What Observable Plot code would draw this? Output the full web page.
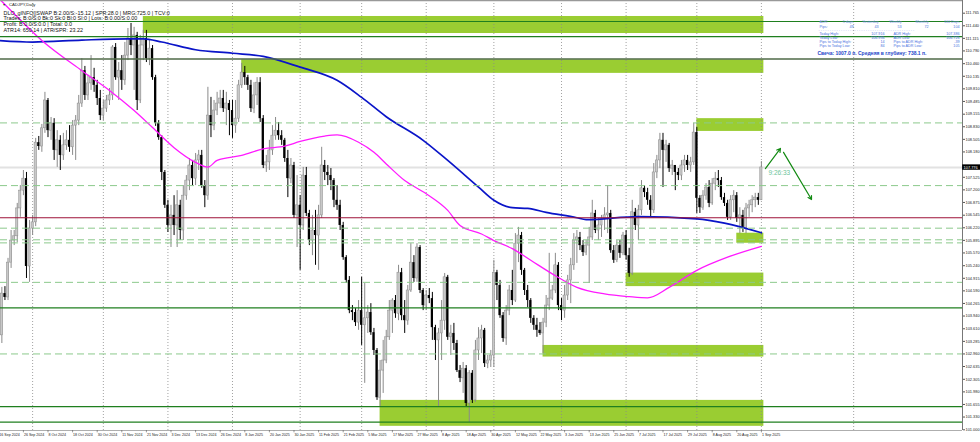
<!DOCTYPE html>
<html><head><meta charset="utf-8">
<script src="https://cdn.jsdelivr.net/npm/d3@7"></script>
<script src="https://cdn.jsdelivr.net/npm/@observablehq/plot@0.6"></script>
<style>html,body{margin:0;padding:0;background:#fff;overflow:hidden}#chart svg{display:block}</style>
</head><body><div id="chart"></div>
<script>
// ---- Daily CADJPY bars (index 0 = 16 Sep 2024 ... 248 = 1 Sep 2025) ----
const firstOpen = 103.57;
const closes = [
103.44,104.52,104.42,105.32,105.89,106.00,106.72,107.18,107.49,105.22,
106.20,106.36,108.42,108.32,108.79,109.51,108.73,108.92,108.22,108.48,
108.09,108.35,108.48,108.30,108.86,108.99,109.43,110.28,109.64,109.95,
110.10,109.90,109.56,109.12,109.30,109.51,109.64,110.88,110.10,110.28,
110.03,110.67,111.11,110.93,111.19,109.51,110.93,111.11,110.59,110.85,
110.10,108.92,108.55,107.65,106.80,106.28,106.54,106.28,106.80,106.15,
107.05,107.44,107.83,107.49,107.96,108.09,107.31,107.05,109.12,108.86,
109.25,109.43,109.56,109.30,109.43,109.25,108.86,109.04,109.90,110.23,
110.10,109.90,109.30,109.64,109.97,109.04,107.83,107.91,108.22,108.60,
108.73,108.60,108.48,108.01,107.49,107.83,106.54,106.80,106.28,107.57,
106.59,105.89,106.15,106.02,106.54,107.83,107.65,107.57,107.44,106.93,
106.80,106.28,105.45,104.86,104.08,104.03,103.77,104.08,103.70,103.88,
104.03,103.51,103.05,101.83,102.53,102.79,103.39,104.08,104.34,104.00,
105.06,103.95,103.82,104.60,105.32,104.91,105.71,104.60,104.21,104.47,
104.39,103.64,103.31,103.49,103.82,104.94,103.39,103.49,103.23,102.53,
102.33,102.58,101.68,102.46,101.76,103.05,103.36,103.57,102.71,102.79,
102.92,105.06,104.73,103.95,103.36,104.08,104.60,104.34,105.81,106.02,
105.12,104.60,104.34,103.88,103.70,103.57,103.49,103.77,104.21,104.39,
104.60,105.25,104.21,104.08,104.47,104.86,105.25,105.89,105.97,105.76,
105.58,105.76,105.97,106.59,106.15,106.28,106.46,106.54,106.59,105.63,
105.38,105.76,105.56,106.02,105.50,105.04,106.62,106.28,106.67,107.24,
107.13,106.93,106.67,107.65,107.96,108.48,108.22,108.35,107.75,107.83,
107.65,107.57,107.83,107.96,107.83,107.91,108.68,106.98,106.74,107.05,
107.26,106.85,107.36,107.49,107.44,107.00,106.85,106.49,106.93,107.05,
106.46,106.54,106.20,106.72,106.80,106.93,107.00,106.93,107.78];
const highs = [
103.82,104.68,104.70,105.43,106.15,106.15,106.85,107.31,107.70,107.65,
106.41,106.54,108.53,108.58,108.89,109.72,109.56,109.07,109.04,108.73,
108.60,108.66,108.73,108.86,108.99,109.12,109.64,110.59,110.39,110.16,
110.67,110.34,110.03,109.77,109.51,109.64,109.82,110.93,110.98,110.49,
110.67,111.01,111.37,111.50,111.40,111.27,111.19,111.32,111.32,111.06,
110.93,110.16,108.99,108.60,107.70,106.93,106.80,107.05,107.18,106.93,
107.31,107.57,108.01,107.96,108.14,108.22,108.22,107.44,109.85,109.59,
109.51,109.72,109.77,109.77,109.72,109.51,109.51,109.51,110.03,110.47,
110.39,110.16,110.03,109.97,110.10,110.10,109.12,108.09,108.48,108.86,
109.07,108.94,108.73,108.53,108.22,108.01,107.91,107.57,107.05,107.78,
107.78,106.67,106.54,106.67,106.80,108.30,107.96,107.83,107.75,107.49,
107.31,106.93,106.36,105.50,104.96,104.21,104.13,104.34,104.94,104.78,
104.21,104.26,103.62,103.10,102.79,103.31,103.57,104.34,104.39,104.47,
105.25,105.17,104.34,104.73,105.81,105.50,105.81,105.76,104.65,104.60,
104.65,104.55,103.70,103.62,104.34,105.04,104.99,103.70,103.75,103.31,
102.66,102.74,102.66,102.53,102.53,103.31,103.64,103.70,103.62,102.92,
103.05,105.38,105.12,104.86,104.03,104.21,104.73,105.12,106.07,106.23,
106.10,105.17,104.73,104.39,103.95,103.88,103.77,103.88,104.47,105.56,
104.73,105.56,105.32,104.39,104.73,104.99,105.43,106.07,106.15,106.10,
105.89,105.89,106.23,106.93,106.67,106.46,106.54,106.74,107.31,106.67,
105.76,105.89,105.89,106.10,106.15,105.69,106.93,106.72,106.80,107.44,
107.31,107.24,107.05,107.88,108.09,108.66,108.66,108.48,108.40,107.96,
107.83,107.75,107.96,108.09,108.09,108.04,108.92,108.81,107.05,107.18,
107.36,107.44,107.49,107.65,107.70,107.52,107.11,106.93,107.05,107.18,
107.13,106.74,106.67,106.85,106.93,107.05,107.11,107.11,107.93];
const lows = [
103.31,103.23,104.34,104.34,105.17,105.76,105.84,106.49,107.05,104.91,
104.81,106.02,106.25,108.22,108.17,108.66,108.55,108.48,107.96,107.78,
107.70,107.96,108.22,108.17,108.09,107.96,108.86,109.33,109.51,109.51,
109.77,109.72,109.38,108.99,108.99,109.20,109.38,109.51,110.03,109.51,
109.77,109.90,110.54,110.67,109.77,109.25,109.43,110.54,110.49,110.41,
110.03,108.84,108.48,107.44,106.72,106.10,105.71,106.02,105.71,105.89,
105.89,106.93,107.18,107.31,107.31,107.70,107.24,106.74,106.93,108.55,
108.73,109.12,109.30,109.20,108.86,108.60,108.53,108.66,108.94,109.82,
109.90,109.77,109.20,109.17,109.38,108.94,107.75,107.65,107.70,108.09,
108.48,108.48,108.35,107.91,107.00,107.36,106.46,105.71,105.12,106.15,
106.51,105.76,105.50,105.25,105.12,106.46,107.44,107.31,107.18,106.74,
106.67,106.15,105.38,104.78,104.00,103.82,103.67,103.57,103.18,102.20,
103.49,103.44,102.92,101.76,101.58,101.94,102.71,103.31,103.49,103.88,
103.82,103.82,103.49,103.70,104.55,104.81,104.81,104.52,104.08,104.08,
104.26,103.31,102.79,101.58,102.79,103.57,103.31,102.92,103.05,102.48,
102.22,101.94,101.60,101.19,101.68,101.71,102.79,102.97,102.61,102.58,
102.61,102.61,104.34,103.88,103.26,103.18,103.95,104.21,104.29,105.32,
104.99,104.47,104.16,103.75,103.57,103.39,103.44,102.97,103.64,104.08,
104.34,104.52,104.08,103.82,103.88,104.34,104.26,105.12,105.30,105.63,
105.48,105.50,104.78,105.89,106.07,105.89,105.97,106.15,106.07,105.56,
105.30,105.32,105.43,105.50,105.38,104.94,104.99,106.15,105.89,106.54,
107.00,106.80,106.49,106.59,107.49,107.75,107.26,107.91,107.65,107.57,
107.18,107.44,107.44,107.65,107.70,107.65,107.83,106.59,106.59,106.67,
106.93,106.74,106.80,107.18,107.26,106.93,106.77,106.41,106.41,106.61,
106.36,106.07,106.10,106.07,106.49,106.61,106.74,106.80,106.93];

// ---- moving averages (read at sample bars) ----
const maSlowIdx = [0,11,27,42,47,53,64,76,86,98,110,118,126,138,146,156,161,167,172,178,188,191,208,227,236,248];
const maSlow = [111.06,111.02,111.07,111.10,111.10,111.02,110.82,110.73,110.65,110.37,110.03,109.59,109.09,108.48,107.96,107.27,106.93,106.74,106.72,106.62,106.48,106.43,106.51,106.45,106.34,106.09];
const maFastIdx = [0,4,14,27,36,44,50,57,64,68,71,79,86,93,98,106,110,117,122,126,132,139,146,150,157,161,167,173,180,188,197,205,211,218,227,237,248];
const maFast = [112.15,111.83,111.06,110.28,109.77,109.25,108.81,108.29,107.91,107.79,107.96,108.09,108.26,108.33,108.45,108.59,108.62,108.43,108.17,107.87,107.44,107.10,106.67,106.28,106.06,105.89,105.68,105.38,105.03,104.68,104.51,104.44,104.41,104.68,105.12,105.46,105.74];

// ---- zones and levels ----
const zoneStart = [47,79,227,240,204,177,124];
const zoneEnd = [248.8,248.8,248.8,248.8,248.8,248.8,248.8];
const zoneTop = [111.68,110.56,109.04,106.08,105.05,103.18,101.76];
const zoneBottom = [111.24,110.21,108.71,105.82,104.70,102.88,101.09];
const solidLevels = [111.55,111.16,104.15,101.60,101.20];
const greyGreenLevels = [110.58];
const dashedLevels = [108.93,107.31,106.21,105.91,105.83,104.81,102.96];
const redLevels = [106.48];
const bid = 107.776;
const separatorIdx = [11,34,55,76,98,118,139,161,183,204,227,248,278];

// arrows & timer
const arrowX1 = [249.3,255.2], arrowY1 = [107.75,108.17], arrowX2 = [254.2,264.3], arrowY2 = [108.27,106.95];
const timerText = "9:26:33", timerIdx = 250.3, timerPrice = 107.63;

// ---- axes (107.850 sits under the bid box in the reference) ----
const yTicks = [111.765,111.440,111.115,110.790,110.460,110.135,109.810,109.485,109.155,108.830,108.505,108.180,107.525,107.200,106.875,106.545,106.220,105.895,105.570,105.240,104.915,104.590,104.265,103.940,103.610,103.285,102.960,102.635,102.305,101.980,101.655,101.330,101.000];
const xTickIdx = d3.range(0, 249, 8);
const xTickLabels = ["16 Sep 2024","26 Sep 2024","8 Oct 2024","18 Oct 2024","30 Oct 2024","11 Nov 2024","21 Nov 2024","3 Dec 2024","13 Dec 2024","26 Dec 2024","8 Jan 2025","20 Jan 2025","30 Jan 2025","11 Feb 2025","21 Feb 2025","5 Mar 2025","17 Mar 2025","27 Mar 2025","8 Apr 2025","18 Apr 2025","30 Apr 2025","12 May 2025","22 May 2025","3 Jun 2025","13 Jun 2025","25 Jun 2025","7 Jul 2025","17 Jul 2025","29 Jul 2025","8 Aug 2025","20 Aug 2025","1 Sep 2025"];

// ---- info texts ----
const infoLines = ["DLO_gINFO[|SWAP B:2.00/S:-15.12 | SPR:28.0 | MRG:725.0 | TCV:0","Trades: B:0/S:0 Bk:0 Sk:0 Bl:0 Sl:0 | Lots: B:0.00/S:0.00","Profit: B:0.0/S:0.0 | Total: 0.0","ATR14: 650.14 | ATR/SPR: 23.22"];
const tblHeader = ["ADR:","5 days","Yesterday","Weekly","Monthly","100 Days"];
const tblPips = ["Pips:","49","43","53","72","104"];
const tblLeftLabels = ["Today High:","Today Low:","Pips to Today High:","Pips to Today Low:"];
const tblLeftValues = ["107.916","106.936","14","84"];
const tblRightLabels = ["ADR High:","ADR Low:","Pips to ADR High:","Pips to ADR Low:"];
const tblRightValues = ["107.386","106.726","-39","105"];
const candleLine = "Свеча: 1007.0 п. Средняя в глубину: 738.1 п.";

// ---- build ----
const bars = closes.map((c, i) => ({i, o: i ? closes[i-1] : firstOpen, h: highs[i], l: lows[i], c}));
const bull = bars.filter(d => d.c >= d.o), bear = bars.filter(d => d.c < d.o);
const zones = zoneStart.map((s, k) => ({s, e: zoneEnd[k], t: zoneTop[k], b: zoneBottom[k]}));
const slow = maSlowIdx.map((i, k) => ({i, v: maSlow[k]}));
const fast = maFastIdx.map((i, k) => ({i, v: maFast[k]}));
const arrows = arrowX1.map((x1, k) => ({x1, y1: arrowY1[k], x2: arrowX2[k], y2: arrowY2[k]}));
const xDom = [0.553, 313.4], yDom = [100.982, 112.093];
const F = "Liberation Sans, Arial, sans-serif";
const label = (txt, px, py, o = {}) => Plot.text([txt], {frameAnchor: "top-left", dx: px, dy: py, text: d => d, textAnchor: "start", lineAnchor: "middle", fontSize: 3.7, fill: "#4a72e0", ...o});
const colX = [819, 853, 878, 901, 928, 959];

const marks = [
  Plot.rect(zones, {x1: "s", x2: "e", y1: "b", y2: "t", fill: "#9acd32"}),
  Plot.ruleX(separatorIdx, {stroke: "#8a8a8a", strokeWidth: 0.8, strokeDasharray: "1,2"}),
  Plot.ruleY([bid], {stroke: "#e2e2e2", strokeWidth: 2}),
  Plot.ruleX(bull, {x: "i", y1: "l", y2: "h", stroke: "#8a8a8a", strokeWidth: 1}),
  Plot.ruleX(bear, {x: "i", y1: "l", y2: "h", stroke: "#000", strokeWidth: 1}),
  Plot.rect(bull, {x1: d => d.i - 0.36, x2: d => d.i + 0.36, y1: "o", y2: d => Math.abs(d.c - d.o) < 0.01 ? d.o + 0.01 : d.c, fill: "#c8c8c8", stroke: "#8a8a8a", strokeWidth: 0.5}),
  Plot.rect(bear, {x1: d => d.i - 0.36, x2: d => d.i + 0.36, y1: "o", y2: "c", fill: "#000"}),
  Plot.line(slow, {x: "i", y: "v", stroke: "#0a14c8", strokeWidth: 1.7, curve: "monotone-x"}),
  Plot.line(fast, {x: "i", y: "v", stroke: "#ff1aff", strokeWidth: 1.3, curve: "monotone-x"}),
  Plot.ruleY(dashedLevels, {stroke: "#8cc98c", strokeWidth: 1, strokeDasharray: "7,4"}),
  Plot.ruleY(solidLevels, {stroke: "#1f7f1f", strokeWidth: 1.2}),
  Plot.ruleY(greyGreenLevels, {stroke: "#4f6a47", strokeWidth: 1.4}),
  Plot.ruleY(redLevels, {stroke: "#9e1238", strokeWidth: 1.2}),
  Plot.arrow(arrows, {x1: "x1", y1: "y1", x2: "x2", y2: "y2", stroke: "#128a12", strokeWidth: 1.2, headLength: 5}),
  Plot.text([timerText], {x: timerIdx, y: timerPrice, text: d => d, textAnchor: "start", fontSize: 6.5, fill: "#6cc49a"}),
  // frame lines
  Plot.ruleX([xDom[1]], {stroke: "#777", strokeWidth: 1}),
  Plot.ruleY([yDom[0]], {stroke: "#999", strokeWidth: 0.8}),
  Plot.ruleY([yDom[1]], {stroke: "#999", strokeWidth: 1.5}),
  // axes
  Plot.axisY({ticks: yTicks, anchor: "right", tickSize: 2, tickPadding: 1, fontSize: 3.9, tickFormat: d => d.toFixed(3), label: null, fill: "#222", stroke: "#555"}),
  Plot.rect([bid], {x1: 313.45, x2: 319.3, y1: bid - 0.07, y2: bid + 0.07, fill: "#000"}),
  Plot.text([bid], {x: 313.75, y: d => d, text: d => d.toFixed(3), textAnchor: "start", fontSize: 3.9, fill: "#fff"}),
  Plot.ruleX(xTickIdx, {y1: yDom[0], y2: yDom[0] - 0.06, stroke: "#555", strokeWidth: 0.6}),
  Plot.text(xTickIdx, {x: d => d, text: (d, k) => xTickLabels[k], frameAnchor: "bottom", dy: 5.5, dx: 0.5, textAnchor: "start", fontSize: 3.6, fill: "#222"}),
  // top-left info
  label("▼", 2, 4, {fontSize: 3.4, fill: "#333"}),
  label("CADJPY,Daily", 8.5, 4, {fontSize: 4.2, fill: "#222"}),
  ...infoLines.map((t, k) => label(t, 3, 12.3 + k * 5.7, {fontSize: 5.4, fill: "#111"})),
  // top-right table
  ...tblHeader.map((t, k) => label(t, colX[k], 21.3, {textAnchor: k ? "end" : "start", fill: "#7592e6"})),
  ...tblPips.map((t, k) => label(t, colX[k], 26, {textAnchor: k ? "end" : "start"})),
  ...tblLeftLabels.map((t, k) => label(t, 819, 33.7 + k * 4, {})),
  ...tblLeftValues.map((t, k) => label(t, 884, 33.7 + k * 4, {textAnchor: "end"})),
  ...tblRightLabels.map((t, k) => label(t, 893, 33.7 + k * 4, {})),
  ...tblRightValues.map((t, k) => label(t, 959, 33.7 + k * 4, {textAnchor: "end"})),
  label("- - - - - - - - - - - - - - - - - - - - - - - - - - - - - - - - - - - - - - - - - - -", 818, 29.8, {fontSize: 3.7, fill: "#7592e6"}),
  label(candleLine, 817, 53.3, {fontSize: 5, fontWeight: "bold", fill: "#2446c8"})
];

const chart = Plot.plot({
  width: 980, height: 442,
  marginLeft: 0, marginRight: 18, marginTop: 0, marginBottom: 12,
  x: {type: "linear", domain: xDom, axis: null},
  y: {type: "linear", domain: yDom, axis: null},
  style: {background: "#fff", fontFamily: F, overflow: "hidden"},
  marks
});
document.getElementById("chart").appendChild(chart);
</script>
</body></html>
